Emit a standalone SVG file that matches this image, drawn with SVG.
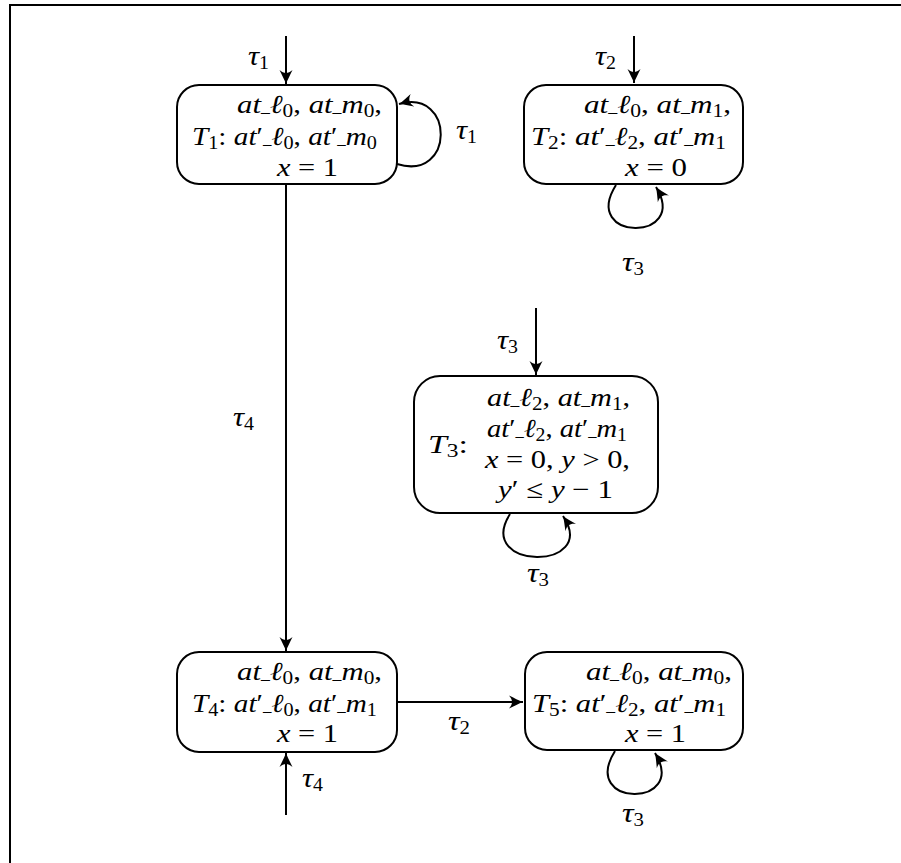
<svg xmlns="http://www.w3.org/2000/svg" width="901" height="863" viewBox="0 0 901 863">
<style>
.box{fill:#fff;stroke:#000;stroke-width:2}
.edge{fill:none;stroke:#000;stroke-width:2;marker-end:url(#arr)}
.frame{fill:none;stroke:#000;stroke-width:2}
text{font-family:"Liberation Serif","Times New Roman",serif;font-size:26px;fill:#000}
.i{font-style:italic}
.s{font-size:18px}
.u{font-size:15px;font-weight:bold}
.t{font-size:28px;font-style:italic}
</style>
<defs>
<marker id="arr" viewBox="-15 -7 16 14" refX="0" refY="0" markerWidth="16" markerHeight="14" markerUnits="userSpaceOnUse" orient="auto">
<path d="M0,0 C-4,-1.5 -9,-4 -14,-6.5 C-10,-2 -10,2 -14,6.5 C-9,4 -4,1.5 0,0 Z" fill="#000"/>
</marker>
</defs>
<rect width="901" height="863" fill="#fff"/>
<path class="frame" d="M10,863 L10,5 L901,5"/>

<g id="connectors">
<path class="edge" d="M286,36 L286,84"/>
<path class="edge" d="M397,164 C455,182 455,88 399,104"/>
<path class="edge" d="M286,185 L286,651"/>
<path class="edge" d="M634,36 L634,83"/>
<path class="edge" d="M616,185 C580,242 690,242 656,187"/>
<path class="edge" d="M536,308 L536,375"/>
<path class="edge" d="M510,514 C474,571 600,571 563,516"/>
<path class="edge" d="M286,815 L286,753"/>
<path class="edge" d="M397,702 L523,702"/>
<path class="edge" d="M615,751 C579,808 689,808 655,753"/>
</g>

<g id="edge-labels">
<text x="248" y="65" textLength="21" lengthAdjust="spacingAndGlyphs"><tspan class="t">τ</tspan><tspan class="s" dy="4">1</tspan></text>
<text x="456" y="139" textLength="21" lengthAdjust="spacingAndGlyphs"><tspan class="t">τ</tspan><tspan class="s" dy="4">1</tspan></text>
<text x="595" y="65" textLength="21" lengthAdjust="spacingAndGlyphs"><tspan class="t">τ</tspan><tspan class="s" dy="4">2</tspan></text>
<text x="622" y="271" textLength="22" lengthAdjust="spacingAndGlyphs"><tspan class="t">τ</tspan><tspan class="s" dy="4">3</tspan></text>
<text x="497" y="349" textLength="21" lengthAdjust="spacingAndGlyphs"><tspan class="t">τ</tspan><tspan class="s" dy="4">3</tspan></text>
<text x="527" y="582" textLength="22" lengthAdjust="spacingAndGlyphs"><tspan class="t">τ</tspan><tspan class="s" dy="4">3</tspan></text>
<text x="233" y="426" textLength="21" lengthAdjust="spacingAndGlyphs"><tspan class="t">τ</tspan><tspan class="s" dy="4">4</tspan></text>
<text x="302" y="787" textLength="21" lengthAdjust="spacingAndGlyphs"><tspan class="t">τ</tspan><tspan class="s" dy="4">4</tspan></text>
<text x="448" y="730" textLength="22" lengthAdjust="spacingAndGlyphs"><tspan class="t">τ</tspan><tspan class="s" dy="4">2</tspan></text>
<text x="622" y="822" textLength="22" lengthAdjust="spacingAndGlyphs"><tspan class="t">τ</tspan><tspan class="s" dy="4">3</tspan></text>
</g>

<g id="T1">
<rect class="box" x="177" y="85" width="220" height="99" rx="22"/>
<text x="237" y="113" textLength="145" lengthAdjust="spacingAndGlyphs"><tspan class="i">at</tspan><tspan class="u" dy="-1">_</tspan><tspan class="i" dy="1">ℓ</tspan><tspan class="s" dy="4">0</tspan><tspan dy="-4">, </tspan><tspan class="i">at</tspan><tspan class="u" dy="-1">_</tspan><tspan class="i" dy="1">m</tspan><tspan class="s" dy="4">0</tspan><tspan dy="-4">,</tspan></text>
<text x="192" y="145" textLength="185" lengthAdjust="spacingAndGlyphs"><tspan class="i">T</tspan><tspan class="s" dy="4">1</tspan><tspan dy="-4">: </tspan><tspan class="i">at</tspan>′<tspan class="u" dy="-1">_</tspan><tspan class="i" dy="1">ℓ</tspan><tspan class="s" dy="4">0</tspan><tspan dy="-4">, </tspan><tspan class="i">at</tspan>′<tspan class="u" dy="-1">_</tspan><tspan class="i" dy="1">m</tspan><tspan class="s" dy="4">0</tspan></text>
<text x="277" y="176" textLength="61" lengthAdjust="spacingAndGlyphs"><tspan class="i">x</tspan> = 1</text>
</g>

<g id="T2">
<rect class="box" x="524" y="85" width="219" height="99" rx="22"/>
<text x="584" y="113" textLength="147" lengthAdjust="spacingAndGlyphs"><tspan class="i">at</tspan><tspan class="u" dy="-1">_</tspan><tspan class="i" dy="1">ℓ</tspan><tspan class="s" dy="4">0</tspan><tspan dy="-4">, </tspan><tspan class="i">at</tspan><tspan class="u" dy="-1">_</tspan><tspan class="i" dy="1">m</tspan><tspan class="s" dy="4">1</tspan><tspan dy="-4">,</tspan></text>
<text x="531" y="145" textLength="195" lengthAdjust="spacingAndGlyphs"><tspan class="i">T</tspan><tspan class="s" dy="4">2</tspan><tspan dy="-4">: </tspan><tspan class="i">at</tspan>′<tspan class="u" dy="-1">_</tspan><tspan class="i" dy="1">ℓ</tspan><tspan class="s" dy="4">2</tspan><tspan dy="-4">, </tspan><tspan class="i">at</tspan>′<tspan class="u" dy="-1">_</tspan><tspan class="i" dy="1">m</tspan><tspan class="s" dy="4">1</tspan></text>
<text x="625" y="176" textLength="62" lengthAdjust="spacingAndGlyphs"><tspan class="i">x</tspan> = 0</text>
</g>

<g id="T3">
<rect class="box" x="414" y="376" width="244" height="137" rx="26"/>
<text x="428" y="453" textLength="40" lengthAdjust="spacingAndGlyphs"><tspan class="i">T</tspan><tspan class="s" dy="4">3</tspan><tspan dy="-4">:</tspan></text>
<text x="487" y="406" textLength="143" lengthAdjust="spacingAndGlyphs"><tspan class="i">at</tspan><tspan class="u" dy="-1">_</tspan><tspan class="i" dy="1">ℓ</tspan><tspan class="s" dy="4">2</tspan><tspan dy="-4">, </tspan><tspan class="i">at</tspan><tspan class="u" dy="-1">_</tspan><tspan class="i" dy="1">m</tspan><tspan class="s" dy="4">1</tspan><tspan dy="-4">,</tspan></text>
<text x="487" y="437" textLength="140" lengthAdjust="spacingAndGlyphs"><tspan class="i">at</tspan>′<tspan class="u" dy="-1">_</tspan><tspan class="i" dy="1">ℓ</tspan><tspan class="s" dy="4">2</tspan><tspan dy="-4">, </tspan><tspan class="i">at</tspan>′<tspan class="u" dy="-1">_</tspan><tspan class="i" dy="1">m</tspan><tspan class="s" dy="4">1</tspan></text>
<text x="485" y="468" textLength="145" lengthAdjust="spacingAndGlyphs"><tspan class="i">x</tspan> = 0, <tspan class="i">y</tspan> &gt; 0,</text>
<text x="498" y="498" textLength="115" lengthAdjust="spacingAndGlyphs"><tspan class="i">y</tspan>′ ≤ <tspan class="i">y</tspan> − 1</text>
</g>

<g id="T4">
<rect class="box" x="177" y="652" width="220" height="100" rx="22"/>
<text x="237" y="680" textLength="145" lengthAdjust="spacingAndGlyphs"><tspan class="i">at</tspan><tspan class="u" dy="-1">_</tspan><tspan class="i" dy="1">ℓ</tspan><tspan class="s" dy="4">0</tspan><tspan dy="-4">, </tspan><tspan class="i">at</tspan><tspan class="u" dy="-1">_</tspan><tspan class="i" dy="1">m</tspan><tspan class="s" dy="4">0</tspan><tspan dy="-4">,</tspan></text>
<text x="192" y="712" textLength="185" lengthAdjust="spacingAndGlyphs"><tspan class="i">T</tspan><tspan class="s" dy="4">4</tspan><tspan dy="-4">: </tspan><tspan class="i">at</tspan>′<tspan class="u" dy="-1">_</tspan><tspan class="i" dy="1">ℓ</tspan><tspan class="s" dy="4">0</tspan><tspan dy="-4">, </tspan><tspan class="i">at</tspan>′<tspan class="u" dy="-1">_</tspan><tspan class="i" dy="1">m</tspan><tspan class="s" dy="4">1</tspan></text>
<text x="277" y="742" textLength="61" lengthAdjust="spacingAndGlyphs"><tspan class="i">x</tspan> = 1</text>
</g>

<g id="T5">
<rect class="box" x="525" y="652" width="218" height="98" rx="22"/>
<text x="586" y="680" textLength="146" lengthAdjust="spacingAndGlyphs"><tspan class="i">at</tspan><tspan class="u" dy="-1">_</tspan><tspan class="i" dy="1">ℓ</tspan><tspan class="s" dy="4">0</tspan><tspan dy="-4">, </tspan><tspan class="i">at</tspan><tspan class="u" dy="-1">_</tspan><tspan class="i" dy="1">m</tspan><tspan class="s" dy="4">0</tspan><tspan dy="-4">,</tspan></text>
<text x="532" y="712" textLength="194" lengthAdjust="spacingAndGlyphs"><tspan class="i">T</tspan><tspan class="s" dy="4">5</tspan><tspan dy="-4">: </tspan><tspan class="i">at</tspan>′<tspan class="u" dy="-1">_</tspan><tspan class="i" dy="1">ℓ</tspan><tspan class="s" dy="4">2</tspan><tspan dy="-4">, </tspan><tspan class="i">at</tspan>′<tspan class="u" dy="-1">_</tspan><tspan class="i" dy="1">m</tspan><tspan class="s" dy="4">1</tspan></text>
<text x="625" y="742" textLength="61" lengthAdjust="spacingAndGlyphs"><tspan class="i">x</tspan> = 1</text>
</g>
</svg>
